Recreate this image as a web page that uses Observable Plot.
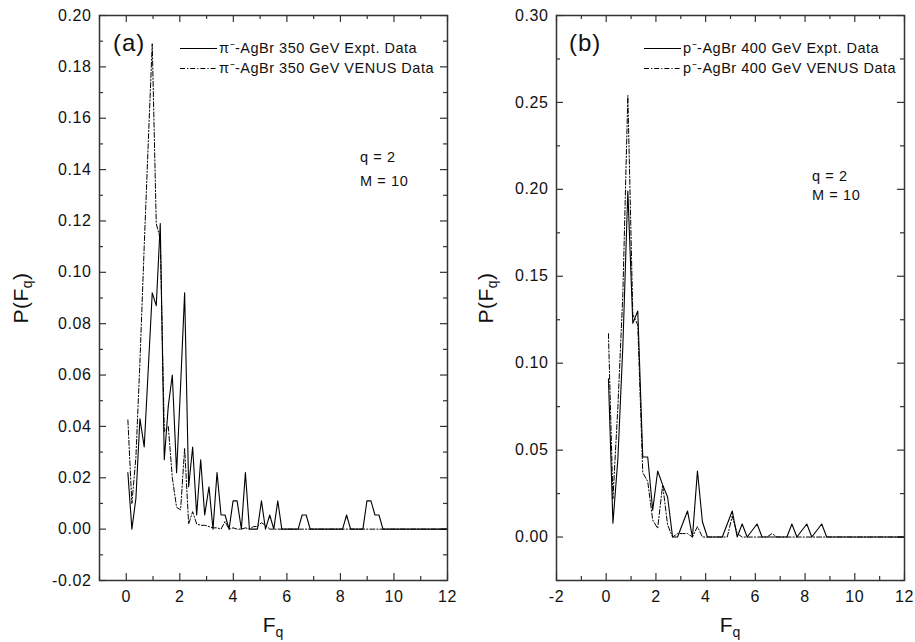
<!DOCTYPE html>
<html><head><meta charset="utf-8">
<script src="https://cdn.jsdelivr.net/npm/d3@7"></script>
<script src="https://cdn.jsdelivr.net/npm/@observablehq/plot@0.6"></script>
<style>
body{margin:0;background:#fff;}
#wrap{position:relative;width:915px;height:642px;overflow:hidden;font-family:"Liberation Sans",Arial,Helvetica,sans-serif;color:#111;}
.panel{position:absolute;top:0;}
.t{position:absolute;white-space:nowrap;line-height:1;}
</style></head><body><div id="wrap"></div>
<script>
// ---------- Panel (a): pi- AgBr 350 GeV ----------
const aExptX = [0.06,0.21,0.36,0.51,0.67,0.82,0.97,1.12,1.27,1.42,1.57,1.72,1.88,2.03,2.18,2.33,2.48,2.63,2.78,2.93,3.09,3.24,3.39,3.54,3.69,3.84,3.99,4.14,4.30,4.45,4.60,4.90,5.05,5.20,5.36,5.51,5.66,5.81,6.42,6.57,6.72,6.87,8.08,8.23,8.38,8.84,8.99,9.14,9.29,9.44,9.59,12.0];
const aExptY = [0.022,0.000,0.012,0.043,0.032,0.062,0.092,0.087,0.119,0.027,0.048,0.060,0.022,0.056,0.092,0.0165,0.032,0.0055,0.027,0.0055,0.0165,0.000,0.022,0.0055,0.0055,0.000,0.011,0.011,0.000,0.022,0.000,0.000,0.011,0.000,0.0055,0.000,0.011,0.000,0.000,0.0055,0.0055,0.000,0.000,0.0055,0.000,0.000,0.011,0.011,0.0055,0.0055,0.000,0.000];
const aVenusX = [0.06,0.21,0.36,0.51,0.67,0.82,0.97,1.12,1.27,1.42,1.57,1.72,1.88,2.03,2.18,2.33,2.48,2.63,2.78,2.93,3.09,3.24,3.39,3.54,3.69,3.84,3.99,4.14,4.30,4.45,4.60,4.75,4.90,5.05,5.20,5.36,5.51,12.0];
const aVenusY = [0.0425,0.010,0.028,0.065,0.110,0.150,0.189,0.119,0.113,0.038,0.040,0.020,0.0085,0.0075,0.0315,0.002,0.0068,0.002,0.0015,0.0015,0.001,0.0005,0.0005,0.000,0.003,0.000,0.0005,0.000,0.000,0.0005,0.000,0.001,0.001,0.0025,0.0015,0.000,0.000,0.000];
const aXTicks = [0,2,4,6,8,10,12];
const aXMinor = [-1,1,3,5,7,9,11];
const aYTicks = [-0.02,0.00,0.02,0.04,0.06,0.08,0.10,0.12,0.14,0.16,0.18,0.20];
const aYMinor = [-0.01,0.01,0.03,0.05,0.07,0.09,0.11,0.13,0.15,0.17,0.19];

// ---------- Panel (b): p AgBr 400 GeV ----------
const bExptX = [0.09,0.27,0.47,0.67,0.87,1.07,1.27,1.47,1.67,1.87,2.07,2.27,2.47,2.67,2.87,3.27,3.47,3.67,3.87,4.07,4.67,5.07,5.27,5.47,5.67,6.07,6.27,7.27,7.47,7.67,8.07,8.27,8.67,8.87,12.0];
const bExptY = [0.091,0.008,0.045,0.110,0.199,0.123,0.130,0.046,0.046,0.0155,0.038,0.030,0.023,0.000,0.000,0.015,0.000,0.038,0.0088,0.000,0.000,0.015,0.000,0.0075,0.000,0.0075,0.000,0.000,0.0075,0.000,0.0075,0.000,0.0075,0.000,0.000];
const bVenusX = [0.09,0.27,0.47,0.67,0.87,1.07,1.27,1.47,1.67,1.87,2.07,2.27,2.47,2.67,2.87,3.07,3.27,3.47,3.67,3.87,4.07,4.87,5.07,5.27,5.47,6.47,6.67,6.87,12.0];
const bVenusY = [0.117,0.022,0.075,0.140,0.254,0.128,0.122,0.037,0.032,0.0098,0.005,0.030,0.007,0.000,0.002,0.002,0.002,0.000,0.006,0.000,0.000,0.000,0.012,0.002,0.000,0.000,0.002,0.000,0.000];
const bXTicks = [-2,0,2,4,6,8,10,12];
const bXMinor = [-1,1,3,5,7,9,11];
const bYTicks = [0.00,0.05,0.10,0.15,0.20,0.25,0.30];
const bYMinor = [-0.025,0.025,0.075,0.125,0.175,0.225,0.275];

const legendA = ["π⁻-AgBr 350 GeV Expt. Data", "π⁻-AgBr 350 GeV VENUS Data"];
const legendB = ["p⁻-AgBr 400 GeV Expt. Data", "p⁻-AgBr 400 GeV VENUS Data"];

const zip = (xs, ys) => xs.map((x, i) => ({x, y: ys[i]}));
const DASH = "5,2,1.2,2";
const AX = "#333";
const INNER_W = 348, INNER_H = 565;

function panel(o) {
  const tk = {stroke: AX, strokeWidth: 1.2};
  const ticks = (len) => [
    Plot.tickX(len === 7 ? o.xTicks : o.xMinor, {x: d => d, insetTop: INNER_H - len, ...tk}),
    Plot.tickX(len === 7 ? o.xTicks : o.xMinor, {x: d => d, insetBottom: INNER_H - len, ...tk}),
    Plot.tickY(len === 7 ? o.yTicks : o.yMinor, {y: d => d, insetRight: INNER_W - len, ...tk}),
    Plot.tickY(len === 7 ? o.yTicks : o.yMinor, {y: d => d, insetLeft: INNER_W - len, ...tk})
  ];
  return Plot.plot({
    width: o.width, height: 642,
    marginLeft: 99, marginRight: o.width - 99 - INNER_W, marginTop: 15, marginBottom: 62,
    x: {domain: o.xDomain}, y: {domain: o.yDomain},
    style: {fontFamily: '"Liberation Sans", Arial, Helvetica, sans-serif', fontSize: "16px", color: "#111", letterSpacing: "0.6px", background: "transparent", overflow: "visible"},
    marks: [
      ...ticks(7),
      ...ticks(4),
      Plot.axisX(o.xTicks, {anchor: "bottom", tickSize: 0, tickPadding: 10, label: null, fill: "#111", tickFormat: d => String(d)}),
      Plot.axisY(o.yTicks, {anchor: "left", tickSize: 0, tickPadding: 8, label: null, fill: "#111", tickFormat: d => d.toFixed(2)}),
      Plot.line(zip(o.venusX, o.venusY), {x: "x", y: "y", stroke: "#000", strokeWidth: 1, strokeDasharray: DASH}),
      Plot.line(zip(o.exptX, o.exptY), {x: "x", y: "y", stroke: "#000", strokeWidth: 1.1}),
      Plot.frame({stroke: AX, strokeWidth: 1.5})
    ]
  });
}

const wrap = document.getElementById("wrap");
function place(node, left) { node.classList.add("panel"); node.style.left = left + "px"; wrap.appendChild(node); }

place(panel({width: 457, xDomain: [-1, 12], yDomain: [-0.02, 0.20], xTicks: aXTicks, xMinor: aXMinor, yTicks: aYTicks, yMinor: aYMinor, exptX: aExptX, exptY: aExptY, venusX: aVenusX, venusY: aVenusY}), 0);
place(panel({width: 458, xDomain: [-2, 12], yDomain: [-0.025, 0.30], xTicks: bXTicks, xMinor: bXMinor, yTicks: bYTicks, yMinor: bYMinor, exptX: bExptX, exptY: bExptY, venusX: bVenusX, venusY: bVenusY}), 457);

function text(html, left, top, size, extra) {
  const d = document.createElement("div");
  d.className = "t";
  d.innerHTML = html;
  d.style.left = left + "px"; d.style.top = top + "px"; d.style.fontSize = size + "px";
  if (extra) Object.assign(d.style, extra);
  wrap.appendChild(d);
  return d;
}
function legend(x0, x1, tx, rows) {
  const ys = [48.5, 68.5];
  const s = document.createElementNS("http://www.w3.org/2000/svg", "svg");
  s.setAttribute("width", 915); s.setAttribute("height", 642);
  s.style.position = "absolute"; s.style.left = "0"; s.style.top = "0"; s.style.pointerEvents = "none";
  rows.forEach((label, i) => {
    const l = document.createElementNS("http://www.w3.org/2000/svg", "line");
    l.setAttribute("x1", x0); l.setAttribute("x2", x1); l.setAttribute("y1", ys[i]); l.setAttribute("y2", ys[i]);
    l.setAttribute("stroke", "#000"); l.setAttribute("stroke-width", i === 0 ? 1.1 : 1);
    if (i === 1) l.setAttribute("stroke-dasharray", DASH);
    s.appendChild(l);
    text(label, tx, ys[i] - 7.5, 14.5, {letterSpacing: "0.5px"});
  });
  wrap.appendChild(s);
}
legend(180, 217, 219, legendA);
legend(644, 681, 683, legendB);

text("(a)", 113, 30.5, 24, {letterSpacing: "1px"});
text("(b)", 569, 30.5, 24, {letterSpacing: "1px"});
text("q = 2", 360, 150, 14.5, {letterSpacing: "0.6px"});
text("M = 10", 360, 174, 14.5, {letterSpacing: "0.6px"});
text("q = 2", 812, 169, 14.5, {letterSpacing: "0.6px"});
text("M = 10", 812, 188, 14.5, {letterSpacing: "0.6px"});

const ylab = 'P(F<sub style="font-size:14px;vertical-align:-4px">q</sub>)';
const xlab = 'F<sub style="font-size:14px;vertical-align:-5px">q</sub>';
text(ylab, 22, 298, 21, {transform: "translate(-50%,-50%) rotate(-90deg)", letterSpacing: "0.5px"});
text(ylab, 487, 298, 21, {transform: "translate(-50%,-50%) rotate(-90deg)", letterSpacing: "0.5px"});
text(xlab, 273, 614, 21, {transform: "translateX(-50%)"});
text(xlab, 730, 614, 21, {transform: "translateX(-50%)"});
</script>
</body></html>
